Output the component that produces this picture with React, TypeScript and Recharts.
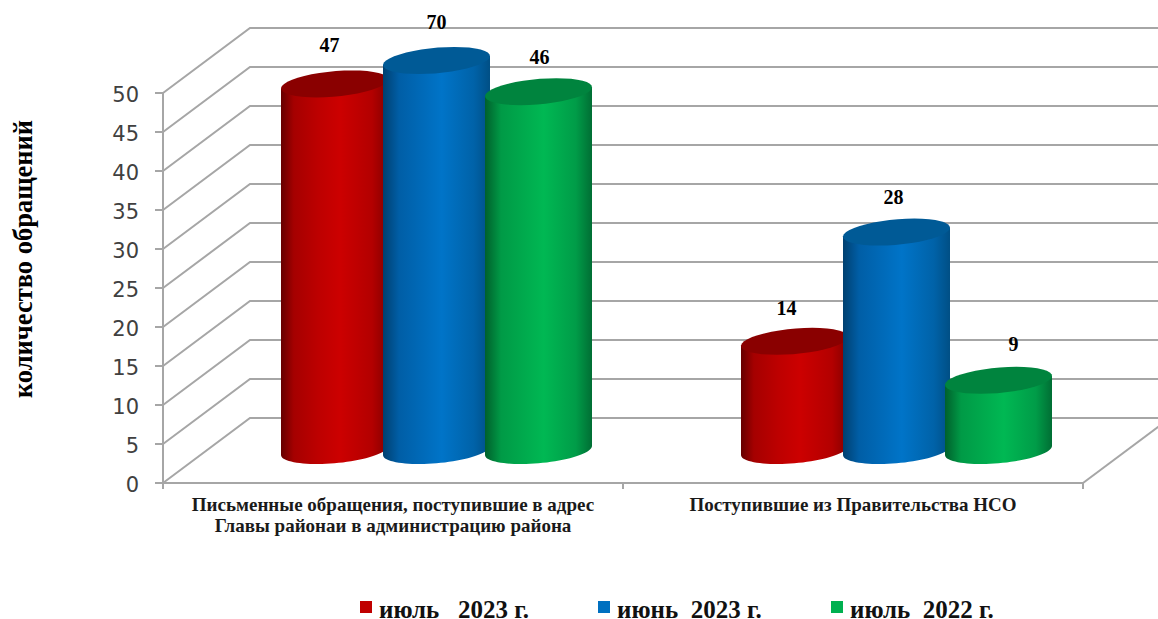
import { Bar, BarChart, CartesianGrid, Label, LabelList, Legend, XAxis, YAxis } from "recharts";

const categories = [
  "Письменные обращения, поступившие в адрес\nГлавы районаи в администрацию района",
  "Поступившие из Правительства НСО",
];
const july2023 = [47, 14];
const june2023 = [70, 28];
const july2022 = [46, 9];
const yTicks = [0, 5, 10, 15, 20, 25, 30, 35, 40, 45, 50];
const AXIS_MAX = 50;

const table = categories.map((name, i) => ({
  name,
  july2023: july2023[i],
  june2023: june2023[i],
  july2022: july2022[i],
}));

// depth of the fake 3D box; cylinders stand half way into it
const DEPTH_X = 87;
const DEPTH_Y = -65;
const PLOT_W = 920;
const GREY = "#a6a6a6";
const SERIF = "'Liberation Serif', serif";

// hand placed labels in the original, [dx, dy] per bar
const redNudge = [[-5, -3], [-8, 3]];
const blueNudge = [[0, -3], [-3, 1]];
const greenNudge = [[1, 1], [15, 0]];

function ellipsePoints(cx: number, cy: number, rx: number, from: number, to: number) {
  const skew = 0.354;
  const R = rx / Math.sqrt(1 + skew * skew);
  const pts: string[] = [];
  const steps = 40;
  for (let i = 0; i <= steps; i++) {
    const t = from + ((to - from) * i) / steps;
    pts.push(`${(cx + R * Math.cos(t) + skew * R * Math.sin(t)).toFixed(1)},${(cy - 0.268 * R * Math.sin(t)).toFixed(1)}`);
  }
  return pts;
}

function Cylinder(props: any) {
  const { x, y, width, height, gradient, lid } = props;
  const cx = x + width / 2 + DEPTH_X / 2;
  const top = y + DEPTH_Y / 2;
  const bottom = y + height + DEPTH_Y / 2;
  const rx = width / 2 + 2.5;
  const t0 = Math.atan(0.354);
  const front = ellipsePoints(cx, bottom, rx, t0, t0 - Math.PI);
  const body = [...front, ...ellipsePoints(cx, top, rx, t0 - Math.PI, t0 - Math.PI).slice(0, 1), ...ellipsePoints(cx, top, rx, t0, t0).slice(0, 1)];
  const cap = ellipsePoints(cx, top, rx, 0, Math.PI * 2);
  return (
    <g>
      <polygon points={body.join(" ")} fill={`url(#${gradient})`} />
      <polygon points={cap.join(" ")} fill={lid} />
    </g>
  );
}

function valueLabel(nudge: number[][]) {
  return (p: any) => (
    <text
      x={p.x + p.width / 2 + DEPTH_X / 2 + nudge[p.index][0]}
      y={p.y + DEPTH_Y / 2 - 36 + nudge[p.index][1]}
      textAnchor="middle"
      dominantBaseline="central"
      fontFamily={SERIF}
      fontWeight="bold"
      fontSize={20}
      fill="#000"
    >
      {p.value}
    </text>
  );
}

// back wall line plus the diagonal running to the front of the axis
function gridLine(p: any) {
  const { x1, x2, y1 } = p;
  const bx = x1 + DEPTH_X;
  const by = y1 + DEPTH_Y;
  return (
    <g key={p.key}>
      <path d={`M${x1},${y1} L${bx},${by} L1170,${by}`} fill="none" stroke={GREY} strokeWidth={2} />
      {y1 > 480 && <path d={`M${x2},${y1} L${x2 + DEPTH_X},${by}`} fill="none" stroke={GREY} strokeWidth={2} />}
    </g>
  );
}

function CategoryTick(p: any) {
  const lines = String(p.payload.value).split("\n");
  return (
    <g>
      <line x1={p.x - PLOT_W / 4} x2={p.x - PLOT_W / 4} y1={p.y - 8} y2={p.y - 2} stroke={GREY} strokeWidth={2} />
      <line x1={p.x + PLOT_W / 4} x2={p.x + PLOT_W / 4} y1={p.y - 8} y2={p.y - 2} stroke={GREY} strokeWidth={2} />
      <text textAnchor="middle" fontFamily={SERIF} fontWeight="bold" fontSize={19} fill="#1a1a1a">
        {lines.map((line, i) => (
          <tspan key={i} x={p.x} y={p.y + 20 + i * 20.5}>
            {line}
          </tspan>
        ))}
      </text>
    </g>
  );
}

const legendSpots = [360, 598, 831];

function ChartLegend({ payload }: any) {
  return (
    <div style={{ position: "relative", height: 19 }}>
      {(payload || []).map((item: any, i: number) => (
        <div
          key={item.value}
          style={{ position: "absolute", left: legendSpots[i], top: 0, height: 19, display: "flex", alignItems: "center", whiteSpace: "pre" }}
        >
          <span style={{ width: 12, height: 12, background: item.color, marginRight: 7, marginTop: -6 }} />
          <span style={{ fontFamily: SERIF, fontWeight: "bold", fontSize: 25, lineHeight: "19px", color: "#111" }}>{item.value}</span>
        </div>
      ))}
    </div>
  );
}

export default function App() {
  return (
    <div style={{ position: "absolute", left: 0, top: 0 }}>
      <BarChart
        width={1158}
        height={619}
        data={table}
        margin={{ top: 93, right: 75, bottom: 0, left: 0 }}
        barCategoryGap={77}
        barGap={0}
      >
        <defs>
          <linearGradient id="cylRed" x1="0" x2="1" y1="0" y2="0">
            <stop offset="0" stopColor="#660000" />
            <stop offset="0.12" stopColor="#a50000" />
            <stop offset="0.35" stopColor="#bd0000" />
            <stop offset="0.55" stopColor="#cc0000" />
            <stop offset="0.85" stopColor="#b30000" />
            <stop offset="1" stopColor="#850000" />
          </linearGradient>
          <linearGradient id="cylBlue" x1="0" x2="1" y1="0" y2="0">
            <stop offset="0" stopColor="#004070" />
            <stop offset="0.15" stopColor="#005ea6" />
            <stop offset="0.55" stopColor="#0074c8" />
            <stop offset="0.85" stopColor="#0062a8" />
            <stop offset="1" stopColor="#004f85" />
          </linearGradient>
          <linearGradient id="cylGreen" x1="0" x2="1" y1="0" y2="0">
            <stop offset="0" stopColor="#00602c" />
            <stop offset="0.15" stopColor="#009a46" />
            <stop offset="0.55" stopColor="#00b853" />
            <stop offset="0.85" stopColor="#009c48" />
            <stop offset="1" stopColor="#006e34" />
          </linearGradient>
        </defs>
        <CartesianGrid vertical={false} horizontal={gridLine} />
        <XAxis
          dataKey="name"
          height={136}
          interval={0}
          tickLine={false}
          tick={CategoryTick}
          axisLine={{ stroke: GREY, strokeWidth: 2 }}
        />
        <YAxis
          width={163}
          domain={[0, AXIS_MAX]}
          ticks={yTicks}
          interval={0}
          tickSize={8}
          tickMargin={16}
          axisLine={{ stroke: GREY, strokeWidth: 2 }}
          tickLine={{ stroke: GREY, strokeWidth: 2 }}
          tick={{ fontFamily: "'DejaVu Sans'", fontSize: 21, fill: "#404040", dy: 1.5 }}
        >
          <Label
            content={() => (
              <text
                transform="translate(23,259) rotate(-90)"
                textAnchor="middle"
                dominantBaseline="central"
                fontFamily={SERIF}
                fontWeight="bold"
                fontSize={26.5}
                fill="#000"
              >
                количество обращений
              </text>
            )}
          />
        </YAxis>
        <Legend
          layout="horizontal"
          verticalAlign="middle"
          align="center"
          itemSorter={null}
          wrapperStyle={{ top: 600, left: 0, width: 1158 }}
          content={ChartLegend}
        />
        <Bar
          name="июль   2023 г."
          dataKey={(d: any) => Math.min(d.july2023, AXIS_MAX)}
          fill="#c00000"
          isAnimationActive={false}
          shape={(p: any) => <Cylinder {...p} gradient="cylRed" lid="#8a0000" />}
        >
          <LabelList dataKey="july2023" content={valueLabel(redNudge)} />
        </Bar>
        <Bar
          name="июнь  2023 г."
          dataKey={(d: any) => Math.min(d.june2023, AXIS_MAX)}
          fill="#0070c0"
          isAnimationActive={false}
          shape={(p: any) => <Cylinder {...p} gradient="cylBlue" lid="#005a96" />}
        >
          <LabelList dataKey="june2023" content={valueLabel(blueNudge)} />
        </Bar>
        <Bar
          name="июль  2022 г."
          dataKey={(d: any) => Math.min(d.july2022, AXIS_MAX)}
          fill="#00b050"
          isAnimationActive={false}
          shape={(p: any) => <Cylinder {...p} gradient="cylGreen" lid="#00843e" />}
        >
          <LabelList dataKey="july2022" content={valueLabel(greenNudge)} />
        </Bar>
      </BarChart>
    </div>
  );
}
